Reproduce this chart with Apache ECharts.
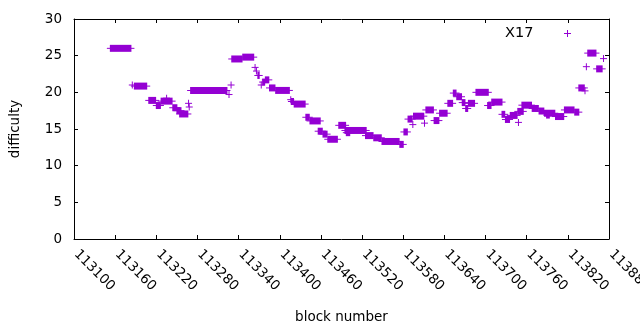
<!DOCTYPE html>
<html>
<head>
<meta charset="utf-8">
<script src="https://cdn.jsdelivr.net/npm/echarts@6/dist/echarts.min.js"></script>
<style>
html,body{margin:0;padding:0;background:#fff;}
#chart{width:640px;height:330px;}
</style>
</head>
<body>
<div id="chart"></div>
<script>
// Runs of consecutive blocks sharing one difficulty value (single points have start == end)
const runStart = [113153,113185,113188,113209,113220,113227,113235,113244,113250,113254,113267,113268,113270,113326,113329,113330,113346,113364,113366,113368,113373,113375,113379,113385,113394,113416,113417,113421,113438,113444,113456,113463,113470,113486,113495,113497,113525,113537,113549,113575,113581,113587,113594,113595,113611,113613,113625,113633,113645,113653,113658,113666,113671,113675,113686,113703,113709,113724,113729,113736,113748,113747,113753,113768,113778,113786,113789,113802,113815,113830,113836,113845,113847,113849,113862,113872];
const runEnd   = [113183,113185,113206,113219,113226,113243,113235,113250,113256,113266,113267,113268,113323,113326,113329,113345,113362,113364,113366,113370,113373,113378,113384,113393,113414,113416,113420,113437,113443,113459,113462,113469,113484,113496,113526,113502,113536,113548,113574,113580,113586,113593,113594,113610,113611,113624,113632,113644,113652,113657,113665,113670,113674,113684,113704,113708,113724,113728,113735,113746,113748,113755,113767,113777,113785,113801,113793,113814,113829,113836,113844,113845,113847,113861,113870,113872];
const runValue = [26.0,21.0,20.85,18.9,18.2,18.8,19.2,17.9,17.5,17.05,18.5,18.0,20.26,19.7,21.0,24.55,24.8,23.4,22.9,22.3,21.0,21.4,21.7,20.6,20.26,19.0,18.75,18.4,16.6,16.1,14.7,14.3,13.6,15.5,14.8,14.5,14.1,13.8,13.3,12.9,14.6,16.35,15.6,16.75,15.8,17.6,16.15,17.15,18.5,19.9,19.4,18.6,17.8,18.5,20.0,18.2,18.67,17.0,16.3,16.85,15.9,17.4,18.25,17.8,17.45,17.15,16.9,16.7,17.6,17.3,20.6,20.2,23.5,25.35,23.2,24.6];

const seriesName = 'X17';
const xMin = 113100, xMax = 113880, xStep = 60;
const yMin = 0, yMax = 30, yStep = 5;
const xTitle = 'block number';
const yTitle = 'difficulty';

const COLOR = '#9400D3';
const FONT = 'DejaVu Sans';
const FS = 13.5;
const PLUS = 'path://M3,0h1v3h3v1h-3v3h-1v-3h-3v-1h3z';

const data = runStart.map((s, i) => [s, runEnd[i], runValue[i]]);

const chart = echarts.init(document.getElementById('chart'), null, {renderer: 'canvas'});
const axisLine = {show: true, onZero: false, lineStyle: {color: '#000', width: 1}};
const tick = {show: true, inside: true, length: 4, lineStyle: {color: '#000', width: 1}};

chart.setOption({
  animation: false,
  backgroundColor: '#fff',
  textStyle: {fontFamily: FONT, fontSize: FS, color: '#000'},
  grid: {left: 74, right: 31, top: 19, bottom: 91, containLabel: false, outerBoundsMode: 'none'},
  legend: {
    show: true,
    right: 64, top: 21,
    align: 'right',
    itemWidth: 58, itemHeight: 7,
    symbolKeepAspect: true,
    textStyle: {fontFamily: FONT, fontSize: FS + 1, color: '#000'},
    data: [{name: seriesName, icon: PLUS}]
  },
  xAxis: [{
    type: 'value', position: 'bottom',
    min: xMin, max: xMax, interval: xStep,
    axisLine: axisLine, axisTick: tick, splitLine: {show: false},
    name: xTitle, nameLocation: 'middle', nameGap: 71,
    nameTextStyle: {fontFamily: FONT, fontSize: FS, color: '#000'},
    axisLabel: {rotate: -45, margin: 11, padding: [0, 0, 0, 3], color: '#000', fontFamily: FONT, fontSize: FS,
      showMinLabel: true, showMaxLabel: true, hideOverlap: false,
      formatter: function (v) { return String(v); }}
  }, {
    type: 'value', position: 'top',
    min: xMin, max: xMax, interval: xStep,
    axisLine: axisLine, axisTick: tick, axisLabel: {show: false}, splitLine: {show: false}
  }],
  yAxis: [{
    type: 'value', position: 'left',
    min: yMin, max: yMax, interval: yStep,
    axisLine: axisLine, axisTick: tick, splitLine: {show: false},
    name: yTitle, nameLocation: 'middle', nameGap: 52, nameRotate: 90,
    nameTextStyle: {fontFamily: FONT, fontSize: FS, color: '#000'},
    axisLabel: {margin: 12, color: '#000', fontFamily: FONT, fontSize: FS}
  }, {
    type: 'value', position: 'right',
    min: yMin, max: yMax, interval: yStep,
    axisLine: axisLine, axisTick: tick, axisLabel: {show: false}, splitLine: {show: false}
  }],
  series: [{
    name: seriesName,
    type: 'custom',
    xAxisIndex: 0, yAxisIndex: 0,
    itemStyle: {color: COLOR},
    encode: {x: [0, 1], y: 2},
    data: data,
    renderItem: function (params, api) {
      const v = api.value(2);
      const p0 = api.coord([api.value(0), v]);
      const p1 = api.coord([api.value(1), v]);
      const w = p1[0] - p0[0];
      return {
        type: 'group',
        children: [
          {type: 'rect', shape: {x: p0[0] - 0.5, y: p0[1] - 3.5, width: w + 1, height: 7}, style: {fill: COLOR}},
          {type: 'rect', shape: {x: p0[0] - 3.5, y: p0[1] - 0.5, width: w + 7, height: 1}, style: {fill: COLOR}}
        ]
      };
    }
  }]
});
</script>
</body>
</html>
